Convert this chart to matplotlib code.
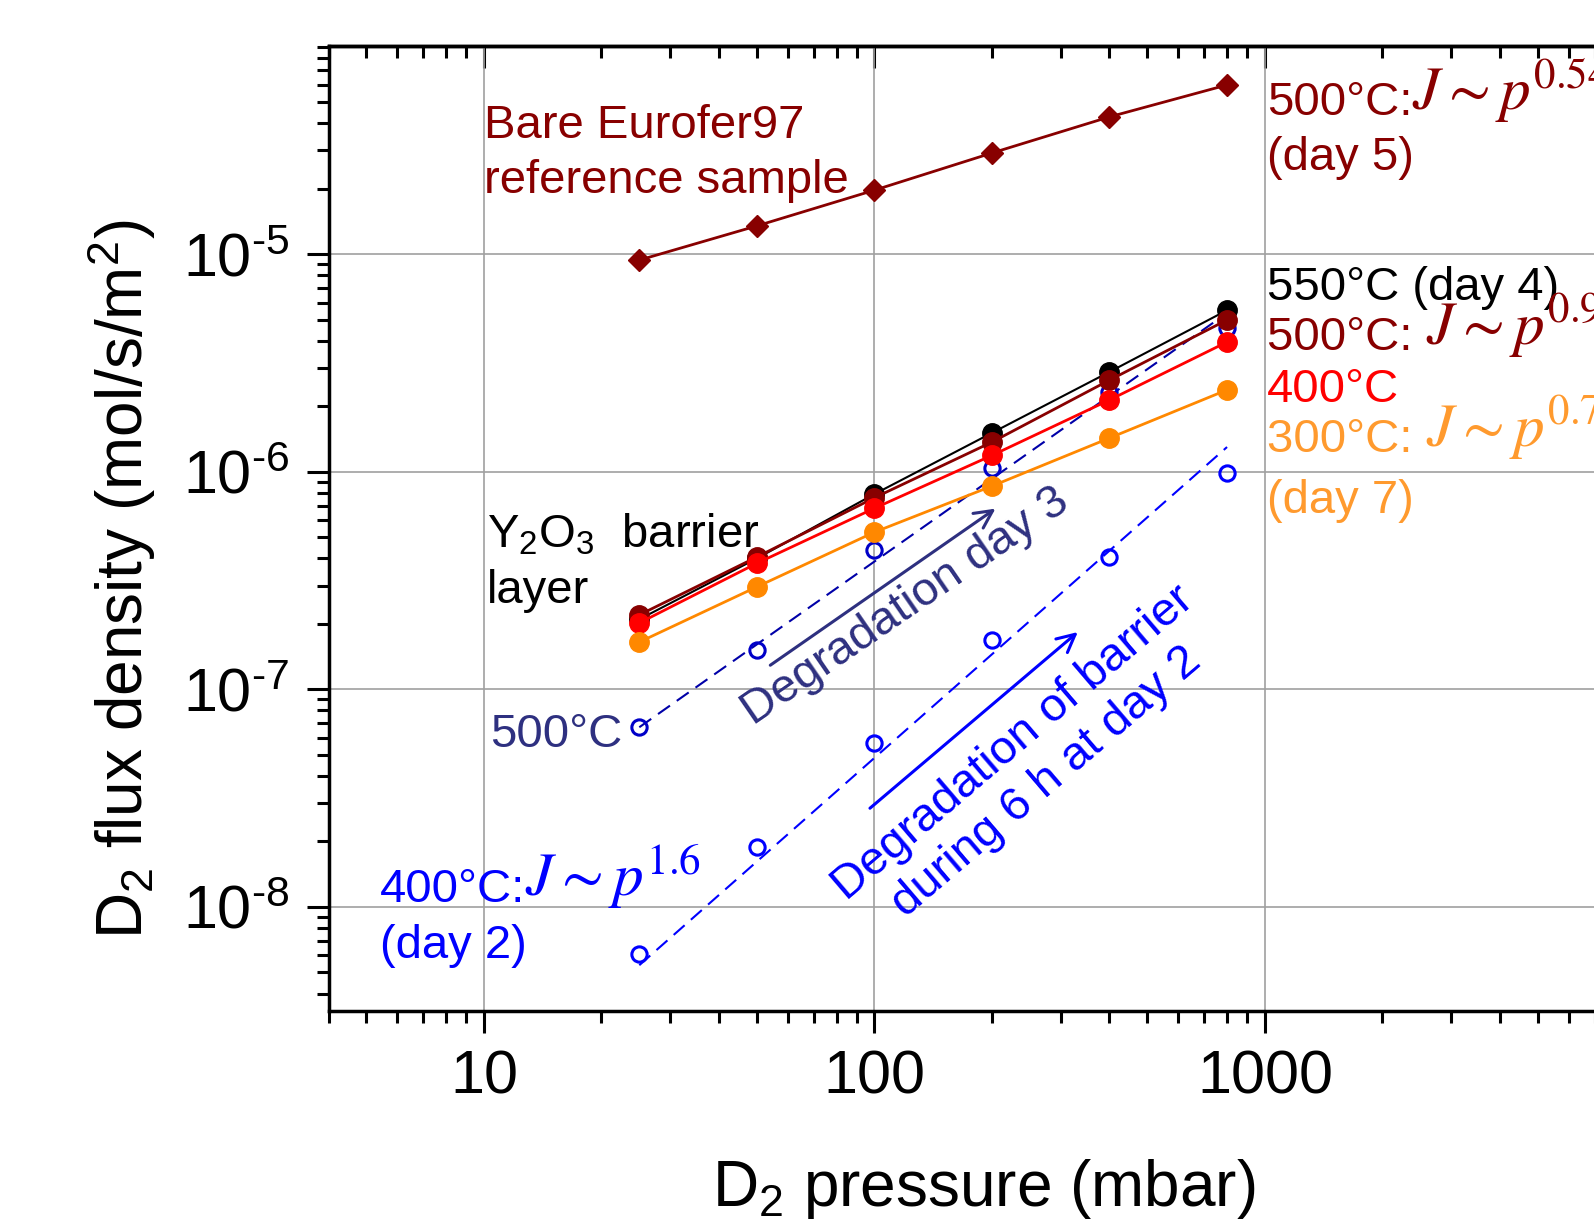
import matplotlib
matplotlib.use("Agg")
import matplotlib.pyplot as plt
import numpy as np
from matplotlib.ticker import LogLocator, NullFormatter, FuncFormatter

plt.rcParams["font.family"] = ["Liberation Sans", "DejaVu Sans"]
plt.rcParams["mathtext.fontset"] = "custom"
plt.rcParams["mathtext.rm"] = "Liberation Sans"
plt.rcParams["mathtext.it"] = "Liberation Sans:italic"
plt.rcParams["mathtext.bf"] = "Liberation Sans:bold"

# D2 pressure (mbar)
pressure = [25, 50, 100, 200, 400, 800]

# flux density (mol/s/m2)
bare_500 = [9.4e-6, 1.35e-5, 1.97e-5, 2.92e-5, 4.28e-5, 6.0e-5]
y2o3_550 = [2.1e-7, 4.0e-7, 7.9e-7, 1.51e-6, 2.88e-6, 5.53e-6]
y2o3_500 = [2.2e-7, 4.06e-7, 7.6e-7, 1.37e-6, 2.64e-6, 4.99e-6]
y2o3_400 = [2.02e-7, 3.8e-7, 6.8e-7, 1.19e-6, 2.14e-6, 3.95e-6]
y2o3_300 = [1.65e-7, 2.96e-7, 5.28e-7, 8.6e-7, 1.43e-6, 2.38e-6]
day3_500 = [6.7e-8, 1.52e-7, 4.37e-7, 1.04e-6, 2.33e-6, 4.58e-6]
day2_400 = [6.1e-9, 1.89e-8, 5.67e-8, 1.68e-7, 4.06e-7, 9.86e-7]

# power-law fit lines (end points)
fit_p = [25, 800]
fit_day3_500 = [6.7e-8, 5.37e-6]
fit_day2_400 = [5.4e-9, 1.3e-6]

DARKRED = "#880000"
ORANGE = "#ff8800"
ORANGE_TXT = "#ff9a2e"
NAVY = "#2e3080"
NAVY_LINE = "#0000a8"
BLUE = "#0000ff"

fig = plt.figure(figsize=(15.94, 12.21), dpi=100)
ax = fig.add_axes([0.2061, 0.172, 0.8324, 0.7903])
ax.set_xscale("log")
ax.set_yscale("log")
ax.set_xlim(4, 10000)
ax.set_ylim(10 ** -8.478, 10 ** -4.043)

ax.grid(True, which="major", color="#a0a0a0", linewidth=1.2, zorder=0)
ax.set_axisbelow(True)

# degraded barrier (open symbols, dashed fits)
ax.plot(fit_p, fit_day3_500, color=NAVY_LINE, lw=1.5, dashes=(7, 4), zorder=2)
ax.plot(pressure, day3_500, "o", ms=11, mfc="none", mec="#0000c8", mew=2.2, zorder=2)
ax.plot(fit_p, fit_day2_400, color=BLUE, lw=1.5, dashes=(7, 4), zorder=2)
ax.plot(pressure, day2_400, "o", ms=11, mfc="none", mec=BLUE, mew=2.2, zorder=2)

# Y2O3 barrier
ax.plot(pressure, y2o3_550, "o-", color="black", lw=1.5, ms=14, zorder=3)
ax.plot(pressure, y2o3_500, "o-", color=DARKRED, lw=2, ms=14, zorder=3)
ax.plot(pressure, y2o3_400, "o-", color="#ff0000", lw=2, ms=14, zorder=3)
ax.plot(pressure, y2o3_300, "o-", color=ORANGE, lw=2, ms=14, zorder=3)

# bare Eurofer97
ax.plot(pressure, bare_500, "D-", color=DARKRED, lw=2, ms=11, zorder=3)

# axes styling
for s in ["left", "bottom", "top"]:
    ax.spines[s].set_linewidth(2.5)
ax.tick_params(axis="both", which="major", length=16, width=2.2, labelsize=44)
ax.tick_params(axis="both", which="minor", length=8.5, width=2.2)
ax.tick_params(axis="x", which="both", top=False, pad=12)
ax.tick_params(axis="y", which="both", right=False, pad=12)
ax.xaxis.set_minor_locator(LogLocator(base=10, subs=np.arange(2, 10)))
ax.yaxis.set_minor_locator(LogLocator(base=10, subs=np.arange(2, 10)))
ax.xaxis.set_major_formatter(FuncFormatter(lambda v, _: f"{v:g}" if v < 5000 else ""))
ax.yaxis.set_major_formatter(
    FuncFormatter(lambda v, _: r"$\mathdefault{10^{\text{-}%d}}$" % round(-np.log10(v))))
ax.xaxis.set_minor_formatter(NullFormatter())
ax.yaxis.set_minor_formatter(NullFormatter())

top = ax.secondary_xaxis("top")
top.tick_params(which="both", direction="in", labeltop=False, width=2.2)
top.tick_params(which="major", length=16)
top.tick_params(which="minor", length=8.5)
top.xaxis.set_minor_locator(LogLocator(base=10, subs=np.arange(2, 10)))
top.xaxis.set_minor_formatter(NullFormatter())
top.spines["top"].set_linewidth(2.5)

fig.text(0.617, 0.0123, r"D$_\mathdefault{2}$ pressure (mbar)", fontsize=46,
         ha="center", va="baseline")
fig.text(0.0760, 0.526, r"D$_\mathdefault{2}$ flux density (mol/s/m$^\mathdefault{2}$)",
         fontsize=46, ha="center", va="center", rotation=90)

# annotations
fs = 34
fs_math = 44


def label_with_law(x, y, prefix, law, color):
    t = ax.text(x, y, prefix, color=color, fontsize=fs)
    ax.annotate(law, xy=(1, 0), xycoords=t, ha="left", va="bottom", color=color,
                fontsize=fs_math, math_fontfamily="stix", annotation_clip=False)
    return t


ax.text(10.0, 3.42e-5, "Bare Eurofer97", color=DARKRED, fontsize=fs)
ax.text(10.0, 1.91e-5, "reference sample", color=DARKRED, fontsize=fs)

label_with_law(1012, 4.37e-5, "500°C:", r"$J\sim p^{0.54}$", DARKRED)
ax.text(1012, 2.44e-5, "(day 5)", color=DARKRED, fontsize=fs)
ax.text(1012, 6.16e-6, "550°C (day 4)", color="black", fontsize=fs)
label_with_law(1012, 3.63e-6, "500°C: ", r"$J\sim p^{0.90}$", DARKRED)
ax.text(1012, 2.09e-6, "400°C", color="#ff0000", fontsize=fs)
label_with_law(1012, 1.23e-6, "300°C: ", r"$J\sim p^{0.77}$", ORANGE_TXT)
ax.text(1012, 6.47e-7, "(day 7)", color=ORANGE_TXT, fontsize=fs)

ax.text(10.2, 4.51e-7, r"Y$_\mathdefault{2}$O$_\mathdefault{3}$  barrier", color="black",
        fontsize=fs)
ax.text(10.2, 2.5e-7, "layer", color="black", fontsize=fs)

ax.text(10.4, 5.43e-8, "500°C", color=NAVY, fontsize=fs)
label_with_law(5.42, 1.055e-8, "400°C:", r"$J\sim p^{1.6}$", BLUE)
ax.text(5.42, 5.83e-9, "(day 2)", color=BLUE, fontsize=fs)

ax.text(120, 2.4e-7, "Degradation day 3", color=NAVY, fontsize=fs,
        rotation=34.5, ha="center", va="center")
ax.annotate("", xy=(207, 6.89e-7), xytext=(53.4, 1.27e-7),
            arrowprops=dict(arrowstyle="->", color=NAVY, lw=2.2, mutation_scale=32))

ax.text(250, 4.6e-8, "Degradation of barrier\nduring 6 h at day 2", color=BLUE,
        fontsize=fs, rotation=40.5, ha="center", va="center",
        multialignment="center")
ax.annotate("", xy=(336, 1.87e-7), xytext=(96.2, 2.79e-8),
            arrowprops=dict(arrowstyle="->", color=BLUE, lw=2.2, mutation_scale=32))

fig.savefig("out.png", dpi=100)
